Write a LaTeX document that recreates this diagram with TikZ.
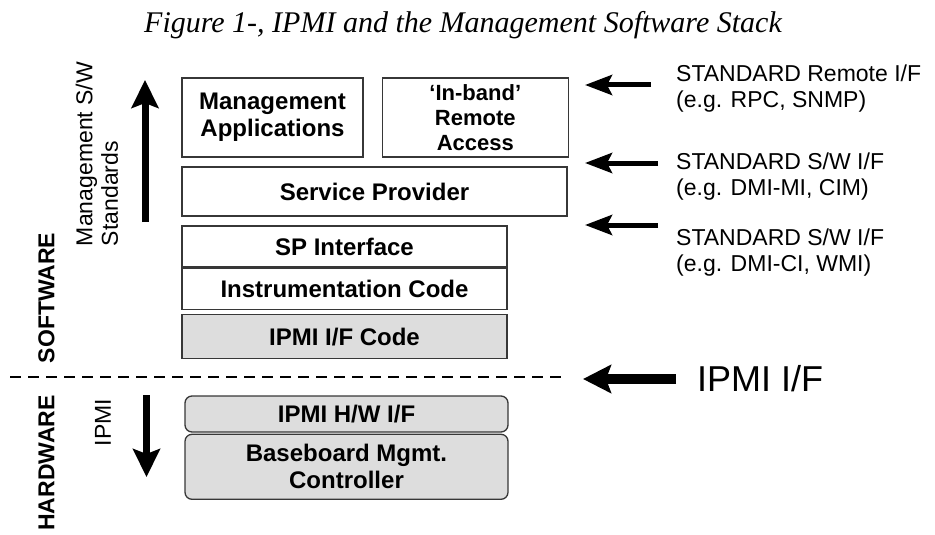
\documentclass[tikz,border=0pt]{standalone}
\usepackage{fontspec}
\setmainfont{Liberation Sans}
\newfontfamily\captionfont{Liberation Serif}
\usetikzlibrary{positioning}
\usetikzlibrary{arrows.meta}
\definecolor{layergray}{RGB}{221,221,221}
\definecolor{edgegray}{RGB}{55,55,55}
\tikzset{
	layer/.style={draw=edgegray, line width=1.3pt, fill=white, inner sep=0pt,
		font=\bfseries\fontsize{24}{27}\selectfont, align=center},
	hwlayer/.style={layer, fill=layergray, rounded corners=7pt},
	sidelabel/.style={font=\fontsize{23}{25.5}\selectfont, align=left, anchor=north west, inner sep=0pt},
	uptext/.style={rotate=90, inner sep=0pt, font=\fontsize{23}{25.5}\selectfont},
	ifarrow/.style={line width=5pt, -{Stealth[length=27pt,width=20pt,inset=5pt]}},
	bigarrow/.style={line width=10pt, -{Stealth[length=28pt,width=28pt,inset=5pt]}},
	stackarrow/.style={line width=7pt, -{Stealth[length=28pt,width=27pt,inset=5pt]}}
}

\begin{document}
\begin{tikzpicture}[x=1pt, y=-1pt]
	\useasboundingbox (0,0) rectangle (935,535);

	\node [font=\captionfont\itshape\fontsize{30}{32}\selectfont, anchor=base] (title) at (463,33)
		{Figure 1-, IPMI and the Management Software Stack};

	% software stack
	\node [layer, minimum width=181pt, minimum height=79pt] (mgmtapp) at (272.5,117.5)
		{Management\\Applications};
	\node [layer, minimum width=186pt, minimum height=79pt, right=18pt of mgmtapp,
		font=\bfseries\fontsize{22}{25}\selectfont] (inband) {‘In-band’\\Remote\\Access};
	\node [layer, minimum width=385pt, minimum height=49pt] (svcprov) at (374.5,191.5)
		{Service Provider};
	\node [layer, minimum width=325pt, minimum height=41pt] (spif) at (344.5,246.5)
		{SP Interface};
	\node [layer, minimum width=325pt, minimum height=41pt, below=0pt of spif] (instr)
		{Instrumentation Code};
	\node [layer, fill=layergray, minimum width=325pt, minimum height=44pt, below=4pt of instr] (ipmicode)
		{IPMI I/F Code};

	% hardware
	\node [hwlayer, minimum width=323pt, minimum height=36pt] (hwif) at (346.5,414)
		{IPMI H/W I/F};
	\node [hwlayer, minimum width=323pt, minimum height=65pt, below=1pt of hwif] (bmc)
		{Baseboard Mgmt.\\Controller};

	% boundary
	\coordinate (sepL) at (10,377);
	\coordinate (sepR) at (563,377);
	\draw [line width=2pt, dash pattern=on 11pt off 7pt] (sepL) -- (sepR);

	% left side
	\node [uptext, font=\bfseries\fontsize{23}{25}\selectfont] (sw) at (46.5,298) {SOFTWARE};
	\node [uptext, font=\bfseries\fontsize{23}{25}\selectfont] (hw) at (46.5,463) {HARDWARE};
	\node [uptext, align=left] (stdtext) at (97,154) {Management S/W\\Standards};
	\node [uptext] (ipmitext) at (103,422.5) {IPMI};
	\coordinate (upB) at (145,222);
	\coordinate (upT) at (145,80);
	\coordinate (dnT) at (146.5,395);
	\coordinate (dnB) at (146.5,477);
	\draw [stackarrow] (upB) -- (upT);
	\draw [stackarrow] (dnT) -- (dnB);

	% interfaces
	\node [sidelabel] (remoteif) at (676,65) {STANDARD Remote I/F\\(e.g. RPC, SNMP)};
	\node [sidelabel] (swifmi) at (676,153) {STANDARD S/W I/F\\(e.g. DMI-MI, CIM)};
	\node [sidelabel] (swifci) at (676,229) {STANDARD S/W I/F\\(e.g. DMI-CI, WMI)};
	\node [font=\fontsize{36}{40}\selectfont, anchor=west, inner sep=0pt] (ipmiif) at (697,379) {IPMI I/F};
	\coordinate (a1) at (651,85);
	\coordinate (b1) at (585,85);
	\coordinate (a2) at (658,163);
	\coordinate (b2) at (585,163);
	\coordinate (a3) at (658,225);
	\coordinate (b3) at (585,225);
	\coordinate (b4) at (583,379);
	\draw [ifarrow] (a1) -- (b1);
	\draw [ifarrow] (a2) -- (b2);
	\draw [ifarrow] (a3) -- (b3);
	\draw [bigarrow] ([xshift=-21pt]ipmiif.west) -- (b4);
\end{tikzpicture}
\end{document}
